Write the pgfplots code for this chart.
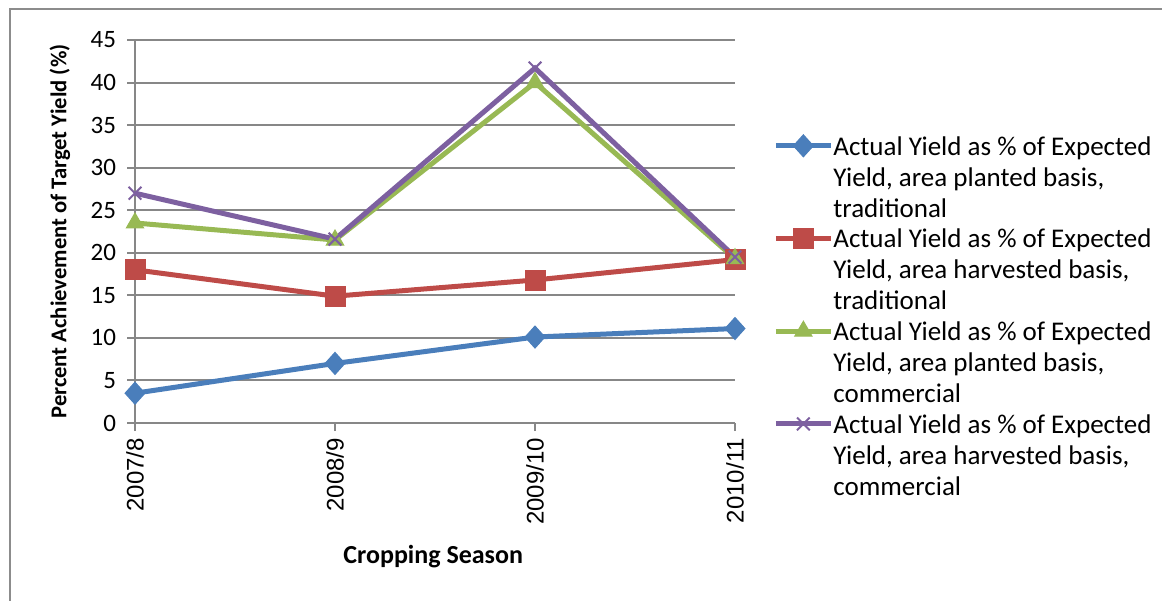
\documentclass[border=0pt]{standalone}
\usepackage{pgfplots}
\pgfplotsset{compat=1.18}
\usepackage{fontspec}
\setmainfont{Carlito}
\newfontfamily\arialf{Liberation Sans}
\definecolor{sblue}{HTML}{4A7EBB}
\definecolor{sred}{HTML}{BE4B48}
\definecolor{sgreen}{HTML}{98B954}
\definecolor{spurple}{HTML}{7D60A0}
\definecolor{gridgray}{HTML}{878787}
\definecolor{framegray}{HTML}{8C8C8C}
\newcommand{\lent}[3]{\begin{tabular}[t]{@{}l@{}}#1\\#2\\#3\end{tabular}}
\begin{document}
\begin{tikzpicture}
\path[use as bounding box] (0,0) rectangle (581pt,300pt);
\draw[framegray, line width=1pt] (5pt,-5pt) -- (5pt,295.5pt) -- (590pt,295.5pt);
\begin{axis}[
  at={(67.5pt,88.5pt)}, anchor=south west,
  scale only axis, width=300pt, height=191.5pt,
  xmin=0, xmax=3, ymin=0, ymax=45,
  xtick={0,1,2,3}, xticklabels={2007/8,2008/9,2009/10,2010/11},
  ytick={0,5,...,45},
  /pgf/number format/assume math mode=true,
  axis x line*=bottom, axis y line*=left,
  ymajorgrids, grid style={gridgray, line width=1pt},
  axis line style={gridgray, line width=1pt},
  tick style={gridgray, line width=1pt},
  tick align=outside, major tick length=4pt,
  yticklabel style={font=\fontsize{12.5}{14}\selectfont, text=black, xshift=-2pt},
  xticklabel style={font=\arialf\fontsize{12}{14}\selectfont, rotate=90, anchor=east, text=black},
  xlabel={Cropping Season},
  ylabel={Percent Achievement of Target Yield (\%)},
  xlabel style={font=\bfseries\fontsize{13}{15}\selectfont, at={(axis description cs:0.497,-0.35)}, anchor=center},
  ylabel style={font=\bfseries\fontsize{11.3}{14}\selectfont, at={(axis description cs:-0.125,0.5)}, anchor=center, rotate=0},
  clip=false,
  legend style={at={(axis description cs:1.0633,0.757)}, anchor=north west, draw=none, fill=none,
    inner sep=0pt, row sep=34pt, font=\fontsize{13.5}{15.5}\selectfont,
    nodes={inner sep=0pt}, /tikz/every even column/.append style={column sep=1pt}},
  legend cell align=left,
  legend image code/.code={\draw[mark repeat=2,mark phase=2,#1] plot coordinates {(0pt,0pt) (13.75pt,0pt) (27.5pt,0pt)};},
  every axis plot/.append style={line width=2.5pt},
]
\addplot[sblue, mark=diamond*, mark size=5.5pt, mark options={solid, line width=0.5pt, xscale=1.2}] coordinates {(0,3.5) (1,7.0) (2,10.1) (3,11.1)};
\addlegendentry{\lent{Actual Yield as \% of Expected}{Yield, area planted basis,}{traditional}}
\addplot[sred, mark=square*, mark size=5pt, mark options={solid, line width=0.5pt}] coordinates {(0,18.0) (1,14.9) (2,16.8) (3,19.2)};
\addlegendentry{\lent{Actual Yield as \% of Expected}{Yield, area harvested basis,}{traditional}}
\addplot[sgreen, mark=triangle*, mark size=5pt, mark options={solid, line width=0.5pt}] coordinates {(0,23.5) (1,21.5) (2,40.0) (3,19.3)};
\addlegendentry{\lent{Actual Yield as \% of Expected}{Yield, area planted basis,}{commercial}}
\addplot[spurple, mark=x, mark size=4.5pt, mark options={solid, line width=1pt}] coordinates {(0,27.0) (1,21.6) (2,41.7) (3,19.5)};
\addlegendentry{\lent{Actual Yield as \% of Expected}{Yield, area harvested basis,}{commercial}}
\end{axis}
\end{tikzpicture}
\end{document}
